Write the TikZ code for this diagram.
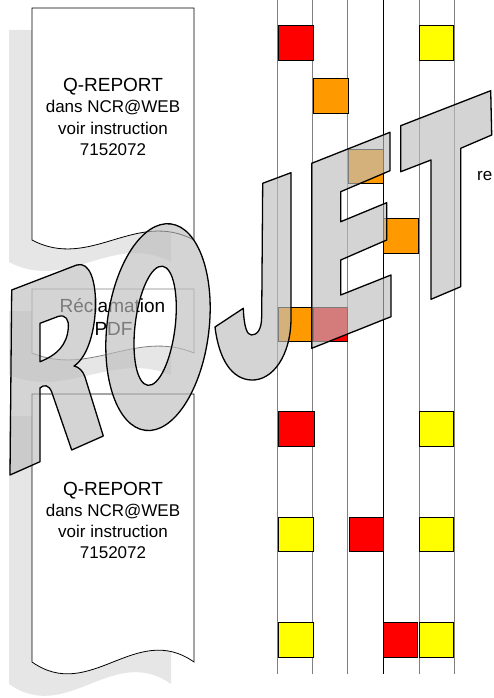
\documentclass[tikz,border=0pt]{standalone}
\usepackage{fontspec}
\setmainfont{Liberation Sans}
\definecolor{shadowgray}{HTML}{E6E6E6}
\definecolor{lettergray}{HTML}{BDBDBD}
\definecolor{sqred}{HTML}{FF0000}
\definecolor{sqorange}{HTML}{FF9900}
\definecolor{sqyellow}{HTML}{FFFF00}
\definecolor{lanegray}{HTML}{808080}
\newcommand{\docoutline}[5]{(#1,#2) -- (#3,#2) -- (#3,#4) .. controls ({#3-0.36*(#3-#1)},{#4-#5}) and ({#1+0.36*(#3-#1)},{#4+#5}) .. (#1,#4) -- cycle}
\tikzset{
  docshadow/.style={fill=shadowgray, draw=none},
  docbox/.style={fill=white, draw=black, line width=0.8pt},
  docboxgray/.style={fill=white, draw=lanegray, line width=0.8pt},
  doctext/.style={inner sep=0pt, anchor=base, font=\fontsize{17}{21}\selectfont},
  doctitle/.style={inner sep=0pt, anchor=base, font=\fontsize{19}{21}\selectfont},
  lane/.style={line width=1pt, draw=lanegray},
  laneblack/.style={line width=1pt, draw=black},
  sq/.style={draw=black, line width=0.6pt},
  letter/.style={fill=lettergray, fill opacity=0.65, draw=black, draw opacity=1, line width=1.3pt, line join=round, even odd rule},
}
\begin{document}
\begin{tikzpicture}[x=1pt,y=-1pt]
\useasboundingbox (0,0) rectangle (493,698);
\clip (0,0) rectangle (493,698);
% document shadows
\path[docshadow] \docoutline{9}{30}{171}{262}{31};
\path[docshadow] \docoutline{9}{311}{171}{375}{24};
\path[docshadow] \docoutline{9}{416}{171}{684}{41};
% documents
\path[docbox] \docoutline{32}{8}{194}{240}{31};
\path[docboxgray] \docoutline{32}{289}{194}{353}{24};
\path[docbox] \docoutline{32}{394}{194}{662}{41};
% document texts
\node[doctitle] (d1a) at (113,92) {Q-REPORT};
\node[doctext] (d1b) at (113,113) {dans NCR@WEB};
\node[doctext] (d1c) at (113,134) {voir instruction};
\node[doctext] (d1d) at (113,155) {7152072};
\node[doctitle] (d2a) at (112.5,312) {Réclamation};
\node[doctitle] (d2b) at (113.5,335) {PDF};
\node[doctitle] (d3a) at (113,495) {Q-REPORT};
\node[doctext] (d3b) at (113,516) {dans NCR@WEB};
\node[doctext] (d3c) at (113,537) {voir instruction};
\node[doctext] (d3d) at (113,558) {7152072};
% lanes
\draw[lane] (277.5,0) -- (277.5,674);
\draw[lane] (312.5,0) -- (312.5,674);
\draw[lane] (347.5,0) -- (347.5,674);
\draw[laneblack] (383,0) -- (383,674);
\draw[lane] (419,0) -- (419,674);
\draw[lane] (454,0) -- (454,674);
% squares
\path[sq, fill=sqred] (278,25) rectangle (313,60.5);
\path[sq, fill=sqyellow] (419,25) rectangle (453.5,60.5);
\path[sq, fill=sqorange] (313,78) rectangle (348,113);
\path[sq, fill=sqorange] (348,149) rectangle (383,183);
\path[sq, fill=sqorange] (383,218) rectangle (418,253);
\path[sq, fill=sqorange] (278,307) rectangle (312.5,341);
\path[sq, fill=sqred] (313,307) rectangle (347.5,341);
\path[sq, fill=sqred] (278,411.5) rectangle (314,446);
\path[sq, fill=sqyellow] (419,411.5) rectangle (453.5,446);
\path[sq, fill=sqyellow] (278,517) rectangle (313,551.5);
\path[sq, fill=sqred] (349,517) rectangle (383,551.5);
\path[sq, fill=sqyellow] (419,517) rectangle (453.5,551.5);
\path[sq, fill=sqyellow] (278,622) rectangle (313,657);
\path[sq, fill=sqred] (383,622) rectangle (417.5,657);
\path[sq, fill=sqyellow] (419,622) rectangle (453.5,657);
% right text
\node[inner sep=0pt, anchor=base east, font=\fontsize{17}{21}\selectfont] (retext) at (492.5,180) {re};
% watermark letters
\path[letter] (11.7,290) -- (76.7,265) .. controls (90,261) and (96,282) .. (95.5,306) .. controls (95,330) and (88,357) .. (74,366) .. controls (79,367) and (83,371) .. (85,377) -- (103.3,436) -- (71.7,450) -- (51.7,392) .. controls (49,385) and (44,384) .. (40,388) -- (40,461.7) -- (10,475) -- cycle
  (40,323.3) -- (58,316.5) .. controls (66,314) and (69,320) .. (68.3,328) .. controls (67,345) and (57,355) .. (40,361.7) -- cycle;
\begin{scope}[rotate around={-7:(157,327)}]
\path[letter] (158,327) ellipse [x radius=51, y radius=104] (155,326) ellipse [x radius=20, y radius=60];
\end{scope}
\path[letter] (262.7,183.3) -- (291,172.7) -- (291,318) .. controls (291,355) and (273,381) .. (251,380) .. controls (232,379) and (219,360) .. (215,327) -- (243.3,308.3) .. controls (244,327) and (247,335) .. (251.5,335) .. controls (257,335) and (261.7,330) .. (261.7,316) -- cycle;
\path[letter] (311.7,163.3) -- (390,132.3) -- (390,170.7) -- (340.7,191.7) -- (340.7,221.7) -- (386.7,202.7) -- (386.7,240) -- (340.7,260) -- (340.7,295) -- (391,275) -- (391,316.7) -- (311.7,348.3) -- cycle;
\path[letter] (400.7,125.7) -- (490.7,90.7) -- (491.7,135) -- (460.7,148.3) -- (460.7,286.7) -- (431,299.3) -- (431,160) -- (400.7,171.7) -- cycle;
\end{tikzpicture}
\end{document}
